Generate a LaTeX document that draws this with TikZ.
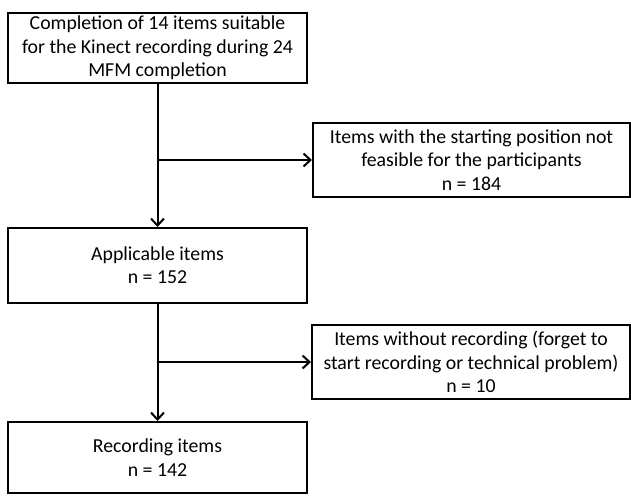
\documentclass[tikz,border=0pt]{standalone}
\usepackage{fontspec}
\setmainfont{Carlito}
\usepackage{tikz}
\usetikzlibrary{arrows.meta, positioning, calc}
\tikzset{
    box/.style={draw, line width=2pt, align=center, inner sep=2pt,
        font=\fontsize{19.8}{23.3}\selectfont},
    flow/.style={-{Straight Barb[length=7pt, width=13pt]}, line width=2pt},
}

\begin{document}
\begin{tikzpicture}[x=1pt, y=-1pt]
    \useasboundingbox (0,0) rectangle (631,495);
    % Main column
    \node[box, minimum width=299pt, minimum height=70pt] (start) at (157.5,48)
        {Completion of 14 items suitable\\for the Kinect recording during 24\\MFM completion};
    \node[box, minimum width=299pt, minimum height=75pt] (applicable) at (157.5,265.5)
        {Applicable items\\n = 152};
    \node[box, minimum width=299pt, minimum height=71pt] (recorded) at (157.5,457.5)
        {Recording items\\n = 142};
    % Excluded items
    \node[box, minimum width=317pt, minimum height=74pt] (notfeasible) at (471.5,160)
        {Items with the starting position not\\feasible for the participants\\n = 184};
    \node[box, minimum width=318pt, minimum height=74pt] (norecording) at (471,362)
        {Items without recording (forget to\\start recording or technical problem)\\n = 10};
    % Arrows
    \draw[flow] (start.south) -- (applicable.north);
    \coordinate (split1) at (start.south |- notfeasible.west);
    \draw[flow] (split1) -- (notfeasible.west);
    \draw[flow] (applicable.south) -- (recorded.north);
    \coordinate (split2) at (applicable.south |- norecording.west);
    \draw[flow] (split2) -- (norecording.west);
\end{tikzpicture}
\end{document}
